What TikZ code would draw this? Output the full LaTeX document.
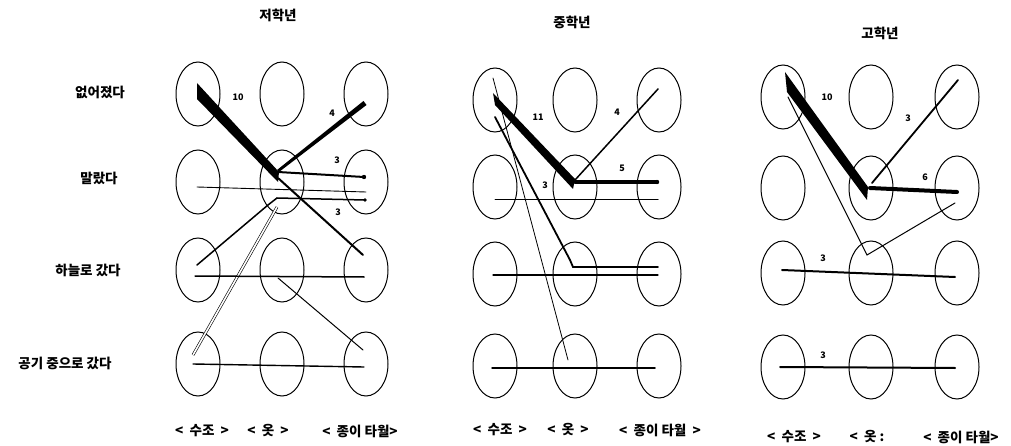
\documentclass[tikz,border=0pt]{standalone}
\usepackage{fontspec}
\newfontfamily\krfont{Noto Sans CJK KR}
\usetikzlibrary{calc,shapes.geometric}

\begin{document}
\begin{tikzpicture}[x=1pt,y=-1pt,
  blob/.style={draw,ellipse,minimum width=44pt,minimum height=64pt,inner sep=0pt,line width=1pt},
  lab/.style={font=\krfont\bfseries\fontsize{13.5}{15}\selectfont},
  num/.style={font=\krfont\bfseries\fontsize{9}{10}\selectfont,inner sep=0pt},
  cline/.style={line width=#1,line cap=round},
  cline/.default=1pt]
  \useasboundingbox (0,0) rectangle (1011,446);

  % ellipses of the three panels
  \foreach \p/\xa/\xb/\xc/\ya/\yb/\yc/\yd in {a/198/282/366/94/182/270/364,
      b/495/575/659/100/187/274/366, c/783/871/957/97/188/273/367}{
    \foreach \r/\y in {1/\ya,2/\yb,3/\yc,4/\yd}{
      \foreach \c/\x in {1/\xa,2/\xb,3/\xc}{
        \node[blob] (\p\r\c) at (\x,\y) {};
      }
    }
  }

  % titles and row labels
  \node[lab] (ta) at (278,15) {저학년};
  \node[lab] (tb) at (572,22) {중학년};
  \node[lab] (tc) at (880,33) {고학년};
  \node[lab] (r1) at (100,92) {없어졌다};
  \node[lab] (r2) at (99,178) {말랐다};
  \node[lab] (r3) at (88,270) {하늘로 갔다};
  \node[lab] (r4) at (65,363) {공기 중으로 갔다};

  % bottom labels
  \node[lab] (ba1) at (202,431) {<\ \ 수조\ \ >};
  \node[lab] (ba2) at (268,431) {<\ \ 옷\ \ >};
  \node[lab] (ba3) at (360,431) {<\ \ 종이 타월>};
  \node[lab] (bb1) at (500,430) {<\ \ 수조\ \ >};
  \node[lab] (bb2) at (568,430) {<\ \ 옷\ \ >};
  \node[lab] (bb3) at (660,430) {<\ \ 종이 타월\ \ >};
  \node[lab] (bc1) at (794,437) {<\ \ 수조\ \ >};
  \node[lab] (bc2) at (867,437) {<\ \ 옷\ :};
  \node[lab] (bc3) at (961,437) {<\ \ 종이 타월>};

  % 저학년
  \fill ($(a11.center)+(-1,-11)$) -- ($(a22.center)+(-3,-10)$) -- ($(a22.center)+(-4,0)$) -- ($(a11.center)+(-1,5)$) -- cycle;
  \fill ($(a13.center)+(-2.5,7)$) -- ($(a13.center)+(0.5,11)$) -- ($(a22.center)+(-3,-10)$) -- ($(a22.center)+(-5,-12)$) -- cycle;
  \draw[cline=2pt] ($(a22.center)+(-4,-10)$) -- ($(a23.center)+(-2,-5)$);
  \fill ($(a23.center)+(-2,-5)$) circle (2.2);
  \draw[cline=0.9pt] ($(a21.center)+(-1,5)$) -- ($(a23.center)+(0,10)$);
  \draw[cline=1.5pt] ($(a31.center)+(-1,-5)$) -- ($(a22.center)+(-14,23)$) -- ($(a22.center)+(-5,16)$) -- ($(a23.center)+(-1,18)$);
  \fill ($(a23.center)+(-1,18)$) circle (1.8);
  \draw[cline=2pt] ($(a22.center)+(-4,-4)$) -- ($(a33.center)+(-3,-15)$);
  \draw[double,double distance=1.6pt,line width=0.6pt] ($(a41.center)+(-5,-9)$) -- ($(a22.center)+(-5,25)$);
  \draw[cline=1.5pt] ($(a31.center)+(-3,6)$) -- ($(a33.center)+(-2,7)$);
  \draw[cline] ($(a32.center)+(-4,8)$) -- ($(a43.center)+(-3,-14)$);
  \draw[cline=1.4pt] ($(a41.center)+(-5,0)$) -- ($(a43.center)+(-2,3)$);
  \node[num] (na1) at (238,97) {10};
  \node[num] (na2) at (332,113) {4};
  \node[num] (na3) at (337,160) {3};
  \node[num] (na4) at (338,212) {3};

  % 중학년
  \draw[cline=0.8pt] ($(b11.center)+(-2,-22)$) -- ($(b42.center)+(-7,-6)$);
  \fill ($(b11.center)+(-2,-7)$) -- ($(b22.center)+(0,-8)$) -- ($(b22.center)+(-2,2)$) -- ($(b11.center)+(0,5)$) -- cycle;
  \draw[cline=1.5pt] ($(b13.center)+(-1,-11)$) -- ($(b22.center)+(0,-7)$);
  \draw[cline=3.5pt] ($(b22.center)+(0,-5)$) -- ($(b23.center)+(-2,-5)$);
  \fill ($(b23.center)+(-2,-5)$) circle (2.2);
  \draw[cline] ($(b21.center)+(0,13)$) -- ($(b23.center)+(-1,13)$);
  \draw[cline=1.8pt] ($(b11.center)+(0,17)$) -- ($(b32.center)+(-5,-14)$) -- ($(b32.center)+(-2,-7)$) -- ($(b33.center)+(-1,-7)$);
  \draw[cline=1.2pt] ($(b31.center)+(-2,1)$) -- ($(b33.center)+(-1,1)$);
  \draw[cline=1.5pt] ($(b41.center)+(-3,2)$) -- ($(b43.center)+(-4,2)$);
  \node[num] (nb1) at (538,117) {11};
  \node[num] (nb2) at (617,112) {4};
  \node[num] (nb3) at (622,168) {5};
  \node[num] (nb4) at (545,185) {3};

  % 고학년
  \fill ($(c11.center)+(2,-25)$) -- ($(c22.center)+(-3,-1)$) -- ($(c22.center)+(-4,12)$) -- ($(c11.center)+(4,-5)$) -- cycle;
  \draw[cline=1.8pt] ($(c13.center)+(1,-17)$) -- ($(c22.center)+(1,-5)$);
  \draw[cline=4pt] ($(c22.center)+(-1,0)$) -- ($(c23.center)+(0,4)$);
  \draw[cline] ($(c11.center)+(5,0)$) -- ($(c32.center)+(-4,-18)$) -- ($(c23.center)+(-2,15)$);
  \draw[cline=2pt] ($(c31.center)+(-1,-3)$) -- ($(c33.center)+(-2,4)$);
  \draw[cline=2pt] ($(c41.center)+(-3,0)$) -- ($(c43.center)+(-2,1)$);
  \node[num] (nc1) at (827,97) {10};
  \node[num] (nc2) at (908,118) {3};
  \node[num] (nc3) at (925,177) {6};
  \node[num] (nc4) at (823,258) {3};
  \node[num] (nc5) at (823,355) {3};
\end{tikzpicture}
\end{document}
